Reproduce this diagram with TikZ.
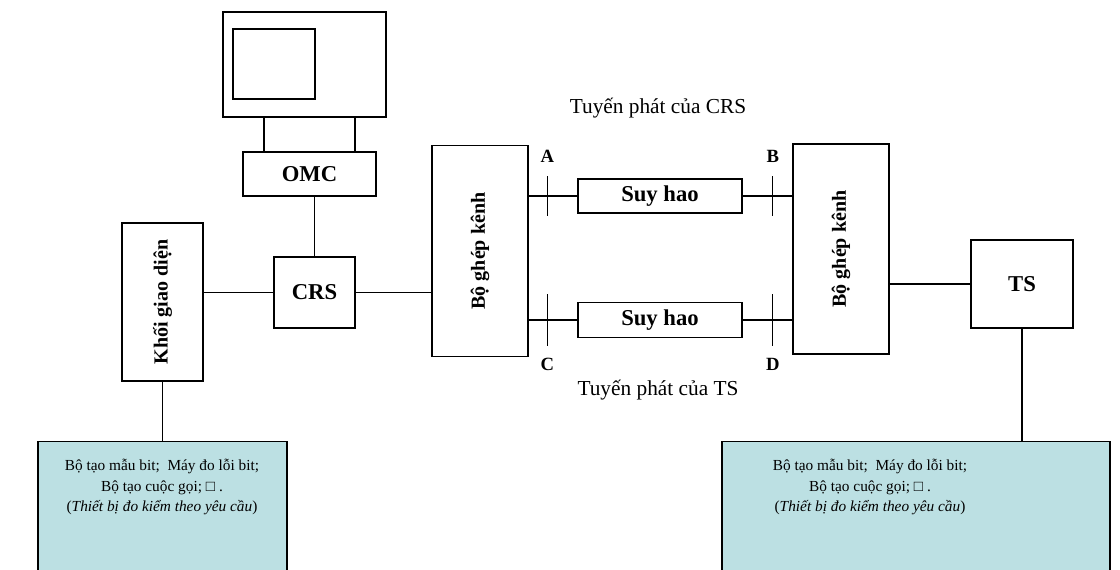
\documentclass[tikz,border=0pt]{standalone}
\usepackage{fontspec}
\usepackage{graphicx}
\setmainfont{Liberation Serif}
\usetikzlibrary{positioning,calc}
\definecolor{kitcyan}{RGB}{188,224,227}
\newdimen\pxu \pxu=0.75pt
\tikzset{
    unitbox/.style={rectangle, draw, inner sep=0pt, font=\fontsize{17}{20}\selectfont\bfseries},
    sidebox/.style={unitbox, font=\fontsize{15}{18}\selectfont\bfseries},
    pointlabel/.style={inner sep=0pt, font=\fontsize{14}{16}\selectfont\bfseries},
    routetext/.style={inner sep=0pt, font=\fontsize{16}{19}\selectfont},
    kitbox/.style={rectangle, draw, fill=kitcyan, inner sep=0pt, minimum height=170\pxu},
    kittext/.style={inner sep=0pt, align=center, font=\fontsize{11.5}{15.5}\selectfont}
}

\begin{document}
\begin{tikzpicture}[x=0.75pt, y=-0.75pt, line width=1.1pt]
    \path[use as bounding box, clip] (0,0) rectangle (1120,569);

    % Monitor
    \node[rectangle, draw, minimum width=163\pxu, minimum height=105\pxu] (monitor) at (304.5,64.5) {};
    \node[rectangle, draw, minimum width=82\pxu, minimum height=70\pxu] (screen) at (274,64) {};

    % OMC under the monitor
    \node[unitbox, minimum width=133\pxu, minimum height=44\pxu] (omc) at (309.5,174) {OMC};
    \coordinate (legL) at ($(omc.north)+(-45.5,0)$);
    \coordinate (legR) at ($(omc.north)+(45.5,0)$);
    \draw (legL) -- (legL |- monitor.south);
    \draw (legR) -- (legR |- monitor.south);

    % CRS and interface block
    \node[unitbox, minimum width=81\pxu, minimum height=71\pxu] (crs) at (314.5,292.5) {CRS};
    \draw (crs.north) -- (crs.north |- omc.south);
    \node[sidebox, minimum width=81\pxu, minimum height=158\pxu] (iface) at (162.5,302) {\rotatebox{90}{Khối giao diện}};
    \draw (crs.west) -- (crs.west -| iface.east);

    % Multiplexers
    \node[sidebox, minimum width=96\pxu, minimum height=211\pxu] (muxL) at (480,251) {\rotatebox{90}{Bộ ghép kênh}};
    \node[sidebox, minimum width=96\pxu, minimum height=210\pxu] (muxR) at (841,249) {\rotatebox{90}{Bộ ghép kênh}};
    \draw (crs.east) -- (crs.east -| muxL.west);

    % Attenuators
    \node[unitbox, minimum width=164\pxu, minimum height=34\pxu] (lossTop) at (660,196) {Suy hao};
    \node[unitbox, minimum width=164\pxu, minimum height=35\pxu] (lossBot) at (660,320) {Suy hao};
    \draw (lossTop.west) -- (lossTop.west -| muxL.east);
    \draw (lossTop.east) -- (lossTop.east -| muxR.west);
    \draw (lossBot.west) -- (lossBot.west -| muxL.east);
    \draw (lossBot.east) -- (lossBot.east -| muxR.west);

    % Test points A, B, C, D
    \coordinate (ptA) at ($(lossTop.west)+(-30,0)$);
    \coordinate (ptB) at ($(lossTop.east)+(30,0)$);
    \coordinate (ptC) at ($(lossBot.west)+(-30,0)$);
    \coordinate (ptD) at ($(lossBot.east)+(30,0)$);
    \draw (ptA) ++(0,-20) -- ++(0,40);
    \draw (ptB) ++(0,-20) -- ++(0,40);
    \draw (ptC) ++(0,-26) -- ++(0,52);
    \draw (ptD) ++(0,-26) -- ++(0,52);
    \node[pointlabel] (lblA) at ($(ptA)+(0,-40)$) {A};
    \node[pointlabel] (lblB) at ($(ptB)+(0,-40)$) {B};
    \node[pointlabel] (lblC) at ($(ptC)+(0,44)$) {C};
    \node[pointlabel] (lblD) at ($(ptD)+(0,44)$) {D};

    % Route captions
    \node[routetext] (routeCRS) at (658,108) {Tuyến phát của CRS};
    \node[routetext] (routeTS) at (658,390) {Tuyến phát của TS};

    % TS
    \node[unitbox, minimum width=102\pxu, minimum height=88\pxu] (ts) at (1022,284) {TS};
    \draw (ts.west) -- (ts.west -| muxR.east);

    % Test equipment
    \node[kitbox, anchor=north, minimum width=249\pxu] (kitL) at (162.5,441) {};
    \node[kitbox, anchor=north, minimum width=388\pxu] (kitR) at (916,441) {};
    \node[kittext] (kitLtext) at (162,487) {Bộ tạo mẫu bit;\ \ Máy đo lỗi bit;\\ Bộ tạo cuộc gọi; □ .\\ (\textit{Thiết bị đo kiểm theo yêu cầu})};
    \node[kittext] (kitRtext) at (870,487) {Bộ tạo mẫu bit;\ \ Máy đo lỗi bit;\\ Bộ tạo cuộc gọi; □ .\\ (\textit{Thiết bị đo kiểm theo yêu cầu})};
    \draw (iface.south) -- (iface.south |- kitL.north);
    \draw (ts.south) -- (ts.south |- kitR.north);
\end{tikzpicture}
\end{document}
